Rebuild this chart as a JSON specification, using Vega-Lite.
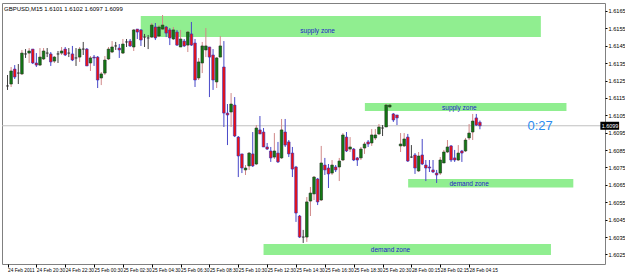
{
  "$schema": "https://vega.github.io/schema/vega-lite/v6.json",
  "width": 603,
  "height": 261,
  "autosize": {"type": "none"},
  "padding": {"left": 2, "top": 3, "right": 20, "bottom": 10},
  "background": "white",
  "config": {
    "view": {"stroke": "#808080", "strokeWidth": 1},
    "font": "Liberation Sans",
    "axis": {"grid": false, "domain": false, "title": null, "labelColor": "#000000", "tickColor": "#000000", "labelFont": "Liberation Sans", "labelFontSize": 5.6}
  },
  "title": {"text": "GBPUSD,M15  1.6101 1.6102 1.6097 1.6099", "anchor": "start", "orient": "top", "frame": "group", "offset": -9, "fontSize": 6, "fontWeight": "normal", "font": "Liberation Sans", "color": "#000000", "dx": 2},
  "datasets": {
    "candles": [
      {"i":0,"o":1.61219,"h":1.61282,"l":1.61196,"c":1.61219},
      {"i":1,"o":1.61230,"h":1.61328,"l":1.61213,"c":1.61305},
      {"i":2,"o":1.61316,"h":1.61339,"l":1.61259,"c":1.61270},
      {"i":3,"o":1.61293,"h":1.61345,"l":1.61230,"c":1.61293},
      {"i":4,"o":1.61288,"h":1.61426,"l":1.61282,"c":1.61408},
      {"i":5,"o":1.61403,"h":1.61431,"l":1.61380,"c":1.61403},
      {"i":6,"o":1.61408,"h":1.61437,"l":1.61351,"c":1.61420},
      {"i":7,"o":1.61431,"h":1.61431,"l":1.61345,"c":1.61351},
      {"i":8,"o":1.61351,"h":1.61408,"l":1.61328,"c":1.61339},
      {"i":9,"o":1.61339,"h":1.61437,"l":1.61334,"c":1.61385},
      {"i":10,"o":1.61374,"h":1.61437,"l":1.61368,"c":1.61420},
      {"i":11,"o":1.61408,"h":1.61437,"l":1.61385,"c":1.61408},
      {"i":12,"o":1.61403,"h":1.61414,"l":1.61334,"c":1.61357},
      {"i":13,"o":1.61362,"h":1.61391,"l":1.61351,"c":1.61385},
      {"i":14,"o":1.61403,"h":1.61420,"l":1.61351,"c":1.61403},
      {"i":15,"o":1.61408,"h":1.61443,"l":1.61397,"c":1.61420},
      {"i":16,"o":1.61431,"h":1.61443,"l":1.61391,"c":1.61397},
      {"i":17,"o":1.61408,"h":1.61437,"l":1.61385,"c":1.61408},
      {"i":18,"o":1.61403,"h":1.61449,"l":1.61362,"c":1.61368},
      {"i":19,"o":1.61380,"h":1.61437,"l":1.61334,"c":1.61380},
      {"i":20,"o":1.61385,"h":1.61443,"l":1.61357,"c":1.61431},
      {"i":21,"o":1.61431,"h":1.61472,"l":1.61397,"c":1.61431},
      {"i":22,"o":1.61431,"h":1.61437,"l":1.61334,"c":1.61334},
      {"i":23,"o":1.61351,"h":1.61391,"l":1.61305,"c":1.61380},
      {"i":24,"o":1.61385,"h":1.61397,"l":1.61334,"c":1.61380},
      {"i":25,"o":1.61385,"h":1.61391,"l":1.61207,"c":1.61253},
      {"i":26,"o":1.61265,"h":1.61299,"l":1.61224,"c":1.61288},
      {"i":27,"o":1.61293,"h":1.61391,"l":1.61282,"c":1.61368},
      {"i":28,"o":1.61374,"h":1.61443,"l":1.61368,"c":1.61431},
      {"i":29,"o":1.61414,"h":1.61477,"l":1.61408,"c":1.61443},
      {"i":30,"o":1.61449,"h":1.61472,"l":1.61426,"c":1.61449},
      {"i":31,"o":1.61437,"h":1.61460,"l":1.61380,"c":1.61426},
      {"i":32,"o":1.61408,"h":1.61489,"l":1.61403,"c":1.61460},
      {"i":33,"o":1.61472,"h":1.61489,"l":1.61443,"c":1.61472},
      {"i":34,"o":1.61477,"h":1.61489,"l":1.61443,"c":1.61449},
      {"i":35,"o":1.61443,"h":1.61546,"l":1.61420,"c":1.61541},
      {"i":36,"o":1.61546,"h":1.61546,"l":1.61489,"c":1.61529},
      {"i":37,"o":1.61541,"h":1.61546,"l":1.61449,"c":1.61483},
      {"i":38,"o":1.61500,"h":1.61518,"l":1.61443,"c":1.61500},
      {"i":39,"o":1.61495,"h":1.61512,"l":1.61431,"c":1.61495},
      {"i":40,"o":1.61500,"h":1.61581,"l":1.61495,"c":1.61569},
      {"i":41,"o":1.61558,"h":1.61581,"l":1.61483,"c":1.61495},
      {"i":42,"o":1.61506,"h":1.61569,"l":1.61500,"c":1.61558},
      {"i":43,"o":1.61546,"h":1.61627,"l":1.61541,"c":1.61569},
      {"i":44,"o":1.61558,"h":1.61564,"l":1.61500,"c":1.61523},
      {"i":45,"o":1.61541,"h":1.61552,"l":1.61454,"c":1.61495},
      {"i":46,"o":1.61489,"h":1.61558,"l":1.61483,"c":1.61541},
      {"i":47,"o":1.61529,"h":1.61541,"l":1.61449,"c":1.61454},
      {"i":48,"o":1.61443,"h":1.61541,"l":1.61443,"c":1.61489},
      {"i":49,"o":1.61477,"h":1.61489,"l":1.61443,"c":1.61449},
      {"i":50,"o":1.61454,"h":1.61535,"l":1.61414,"c":1.61529},
      {"i":51,"o":1.61518,"h":1.61587,"l":1.61449,"c":1.61454},
      {"i":52,"o":1.61466,"h":1.61489,"l":1.61213,"c":1.61253},
      {"i":53,"o":1.61265,"h":1.61380,"l":1.61253,"c":1.61357},
      {"i":54,"o":1.61351,"h":1.61472,"l":1.61293,"c":1.61449},
      {"i":55,"o":1.61426,"h":1.61552,"l":1.61385,"c":1.61449},
      {"i":56,"o":1.61443,"h":1.61443,"l":1.61155,"c":1.61385},
      {"i":57,"o":1.61397,"h":1.61431,"l":1.61196,"c":1.61253},
      {"i":58,"o":1.61242,"h":1.61385,"l":1.61207,"c":1.61380},
      {"i":59,"o":1.61385,"h":1.61506,"l":1.61385,"c":1.61449},
      {"i":60,"o":1.61328,"h":1.61477,"l":1.60983,"c":1.61063},
      {"i":61,"o":1.61063,"h":1.61115,"l":1.60879,"c":1.61052},
      {"i":62,"o":1.61069,"h":1.61178,"l":1.60983,"c":1.61115},
      {"i":63,"o":1.61109,"h":1.61155,"l":1.60925,"c":1.60931},
      {"i":64,"o":1.60925,"h":1.60931,"l":1.60695,"c":1.60816},
      {"i":65,"o":1.60828,"h":1.60828,"l":1.60718,"c":1.60747},
      {"i":66,"o":1.60736,"h":1.60764,"l":1.60707,"c":1.60747},
      {"i":67,"o":1.60759,"h":1.60839,"l":1.60736,"c":1.60833},
      {"i":68,"o":1.60828,"h":1.60954,"l":1.60753,"c":1.60759},
      {"i":69,"o":1.60770,"h":1.60994,"l":1.60764,"c":1.60977},
      {"i":70,"o":1.60966,"h":1.61046,"l":1.60943,"c":1.60943},
      {"i":71,"o":1.60954,"h":1.60977,"l":1.60868,"c":1.60868},
      {"i":72,"o":1.60868,"h":1.60891,"l":1.60851,"c":1.60856},
      {"i":73,"o":1.60845,"h":1.60868,"l":1.60782,"c":1.60805},
      {"i":74,"o":1.60810,"h":1.60948,"l":1.60799,"c":1.60845},
      {"i":75,"o":1.60833,"h":1.60897,"l":1.60776,"c":1.60782},
      {"i":76,"o":1.60805,"h":1.61029,"l":1.60799,"c":1.60966},
      {"i":77,"o":1.60954,"h":1.61029,"l":1.60868,"c":1.60879},
      {"i":78,"o":1.60897,"h":1.60908,"l":1.60810,"c":1.60828},
      {"i":79,"o":1.60833,"h":1.60868,"l":1.60695,"c":1.60741},
      {"i":80,"o":1.60753,"h":1.60759,"l":1.60437,"c":1.60488},
      {"i":81,"o":1.60471,"h":1.60477,"l":1.60345,"c":1.60350},
      {"i":82,"o":1.60350,"h":1.60391,"l":1.60316,"c":1.60350},
      {"i":83,"o":1.60350,"h":1.60580,"l":1.60322,"c":1.60552},
      {"i":84,"o":1.60557,"h":1.60638,"l":1.60471,"c":1.60603},
      {"i":85,"o":1.60598,"h":1.60701,"l":1.60563,"c":1.60695},
      {"i":86,"o":1.60684,"h":1.60690,"l":1.60534,"c":1.60552},
      {"i":87,"o":1.60563,"h":1.60874,"l":1.60557,"c":1.60776},
      {"i":88,"o":1.60764,"h":1.60805,"l":1.60707,"c":1.60736},
      {"i":89,"o":1.60747,"h":1.60770,"l":1.60632,"c":1.60713},
      {"i":90,"o":1.60718,"h":1.60793,"l":1.60707,"c":1.60764},
      {"i":91,"o":1.60753,"h":1.60764,"l":1.60724,"c":1.60736},
      {"i":92,"o":1.60753,"h":1.60805,"l":1.60672,"c":1.60787},
      {"i":93,"o":1.60793,"h":1.60948,"l":1.60787,"c":1.60937},
      {"i":94,"o":1.60925,"h":1.60954,"l":1.60839,"c":1.60845},
      {"i":95,"o":1.60856,"h":1.60925,"l":1.60839,"c":1.60868},
      {"i":96,"o":1.60856,"h":1.60862,"l":1.60787,"c":1.60793},
      {"i":97,"o":1.60805,"h":1.60810,"l":1.60759,"c":1.60793},
      {"i":98,"o":1.60805,"h":1.60868,"l":1.60793,"c":1.60856},
      {"i":99,"o":1.60862,"h":1.60897,"l":1.60828,"c":1.60885},
      {"i":100,"o":1.60897,"h":1.60908,"l":1.60868,"c":1.60885},
      {"i":101,"o":1.60891,"h":1.60971,"l":1.60874,"c":1.60937},
      {"i":102,"o":1.60920,"h":1.60971,"l":1.60908,"c":1.60937},
      {"i":103,"o":1.60943,"h":1.61000,"l":1.60937,"c":1.60983},
      {"i":104,"o":1.60977,"h":1.60994,"l":1.60931,"c":1.60977},
      {"i":105,"o":1.60983,"h":1.61115,"l":1.60983,"c":1.61109},
      {"i":106,"o":1.61098,"h":1.61115,"l":1.61092,"c":1.61109},
      {"i":107,"o":1.61058,"h":1.61063,"l":1.61012,"c":1.61023},
      {"i":108,"o":1.61052,"h":1.61052,"l":1.60994,"c":1.61035},
      {"i":109,"o":1.60874,"h":1.60948,"l":1.60839,"c":1.60885},
      {"i":110,"o":1.60874,"h":1.60948,"l":1.60868,"c":1.60914},
      {"i":111,"o":1.60925,"h":1.60943,"l":1.60782,"c":1.60787},
      {"i":112,"o":1.60810,"h":1.60879,"l":1.60805,"c":1.60810},
      {"i":113,"o":1.60822,"h":1.60833,"l":1.60713,"c":1.60747},
      {"i":114,"o":1.60730,"h":1.60839,"l":1.60724,"c":1.60816},
      {"i":115,"o":1.60822,"h":1.60914,"l":1.60764,"c":1.60770},
      {"i":116,"o":1.60764,"h":1.60793,"l":1.60672,"c":1.60747},
      {"i":117,"o":1.60753,"h":1.60793,"l":1.60724,"c":1.60747},
      {"i":118,"o":1.60736,"h":1.60793,"l":1.60718,"c":1.60724},
      {"i":119,"o":1.60718,"h":1.60736,"l":1.60661,"c":1.60707},
      {"i":120,"o":1.60718,"h":1.60810,"l":1.60707,"c":1.60793},
      {"i":121,"o":1.60776,"h":1.60851,"l":1.60776,"c":1.60839},
      {"i":122,"o":1.60839,"h":1.60908,"l":1.60833,"c":1.60868},
      {"i":123,"o":1.60874,"h":1.60879,"l":1.60782,"c":1.60793},
      {"i":124,"o":1.60805,"h":1.60851,"l":1.60782,"c":1.60793},
      {"i":125,"o":1.60793,"h":1.60879,"l":1.60787,"c":1.60833},
      {"i":126,"o":1.60845,"h":1.60851,"l":1.60782,"c":1.60833},
      {"i":127,"o":1.60845,"h":1.60920,"l":1.60839,"c":1.60908},
      {"i":128,"o":1.60920,"h":1.61000,"l":1.60908,"c":1.60948},
      {"i":129,"o":1.60954,"h":1.61058,"l":1.60908,"c":1.61017},
      {"i":130,"o":1.61035,"h":1.61058,"l":1.60989,"c":1.60994},
      {"i":131,"o":1.61010,"h":1.61020,"l":1.60970,"c":1.60990}
    ],
    "zones": [
      {"name":"supply zone","x1":36.95,"x2":147.9,"p1":1.61621,"p2":1.61500,"li":86.0,"lp":1.61535},
      {"name":"supply zone","x1":99.1,"x2":155.0,"p1":1.61121,"p2":1.61075,"li":125.3,"lp":1.61095},
      {"name":"demand zone","x1":111.1,"x2":156.9,"p1":1.60684,"p2":1.60635,"li":128.0,"lp":1.60655},
      {"name":"demand zone","x1":71.0,"x2":150.7,"p1":1.60310,"p2":1.60247,"li":106.2,"lp":1.60276}
    ],
    "last": [{"price":1.6099,"label":"1.6099","timer":"0:27"}]
  },
  "encoding": {
    "x": {"type": "quantitative", "scale": {"domain": [-0.14, 164.3], "nice": false, "zero": false},
      "axis": {"orient": "bottom", "title": null, "values": [0,8,16,24,32,40,48,56,64,72,80,88,96,104,112,120,128], "labelExpr": "['24 Feb 2011','24 Feb 20:30','24 Feb 22:30','25 Feb 00:30','25 Feb 02:30','25 Feb 04:30','25 Feb 06:30','25 Feb 08:30','25 Feb 10:30','25 Feb 12:30','25 Feb 14:30','25 Feb 16:30','25 Feb 18:30','25 Feb 20:30','28 Feb 00:15','28 Feb 02:15','28 Feb 04:15'][round(datum.value/8)]", "labelAlign": "left", "labelDx": 0.5, "labelBaseline": "top", "labelPadding": 0, "labelFontSize": 4.8, "tickSize": 3, "labelFlush": false, "labelOverlap": false}},
    "y": {"type": "quantitative", "scale": {"domain": [1.60195, 1.61696], "nice": false, "zero": false},
      "axis": {"orient": "right", "title": null, "values": [1.6025,1.6035,1.6045,1.6055,1.6065,1.6075,1.6085,1.6095,1.6105,1.6115,1.6125,1.6135,1.6145,1.6155,1.6165], "format": ".4f", "tickSize": 2, "labelPadding": 1, "labelBaseline": "middle", "labelFlush": false, "labelOverlap": false}}
  },
  "layer": [
    {
      "data": {"name": "zones"},
      "mark": {"type": "rect", "fill": "#90ee90"},
      "encoding": {
        "x": {"field": "x1", "type": "quantitative"},
        "x2": {"field": "x2"},
        "y": {"field": "p1", "type": "quantitative"},
        "y2": {"field": "p2"}
      }
    },
    {
      "data": {"name": "zones"},
      "mark": {"type": "text", "color": "#1c1cc8", "fontSize": 6.5, "font": "Liberation Sans", "align": "center", "baseline": "middle"},
      "encoding": {
        "x": {"field": "li", "type": "quantitative"},
        "y": {"field": "lp", "type": "quantitative"},
        "text": {"field": "name"}
      }
    },
    {
      "data": {"name": "last"},
      "mark": {"type": "rule", "color": "#c0c0c0", "strokeWidth": 1},
      "encoding": {"x": null, "y": {"field": "price", "type": "quantitative"}}
    },
    {
      "data": {"name": "candles"},
      "mark": {"type": "rule", "strokeWidth": 1},
      "encoding": {
        "x": {"field": "i", "type": "quantitative"},
        "y": {"field": "l", "type": "quantitative"},
        "y2": {"field": "h"},
        "stroke": {"condition": [{"test": "datum.c > datum.o", "value": "#d08888"}, {"test": "datum.c < datum.o", "value": "#4848c8"}], "value": "#404040"}
      }
    },
    {
      "data": {"name": "candles"},
      "mark": {"type": "bar", "size": 2.6, "strokeWidth": 0.6},
      "encoding": {
        "x": {"field": "i", "type": "quantitative"},
        "y": {"field": "o", "type": "quantitative"},
        "y2": {"field": "c"},
        "fill": {"condition": [{"test": "datum.c > datum.o", "value": "#137a13"}, {"test": "datum.c < datum.o", "value": "#f01010"}], "value": "#404040"},
        "stroke": {"condition": [{"test": "datum.c > datum.o", "value": "#203020"}, {"test": "datum.c < datum.o", "value": "#3030c0"}], "value": "#303030"}
      }
    },
    {
      "data": {"name": "last"},
      "mark": {"type": "text", "color": "#2a8cf0", "fontSize": 13, "font": "Liberation Sans", "align": "center", "baseline": "middle"},
      "encoding": {
        "x": {"datum": 147.7, "type": "quantitative"},
        "y": {"field": "price", "type": "quantitative"},
        "text": {"field": "timer"}
      }
    },
    {
      "data": {"name": "last"},
      "mark": {"type": "rect", "fill": "#000000"},
      "encoding": {
        "x": {"datum": 164.4, "type": "quantitative"},
        "x2": {"datum": 169.6},
        "y": {"datum": 1.61013, "type": "quantitative"},
        "y2": {"datum": 1.60967}
      }
    },
    {
      "data": {"name": "last"},
      "mark": {"type": "text", "color": "#ffffff", "fontSize": 5.4, "font": "Liberation Sans", "align": "left", "baseline": "middle", "dx": 1.5},
      "encoding": {
        "x": {"datum": 164.4, "type": "quantitative"},
        "y": {"field": "price", "type": "quantitative"},
        "text": {"field": "label"}
      }
    }
  ]
}
